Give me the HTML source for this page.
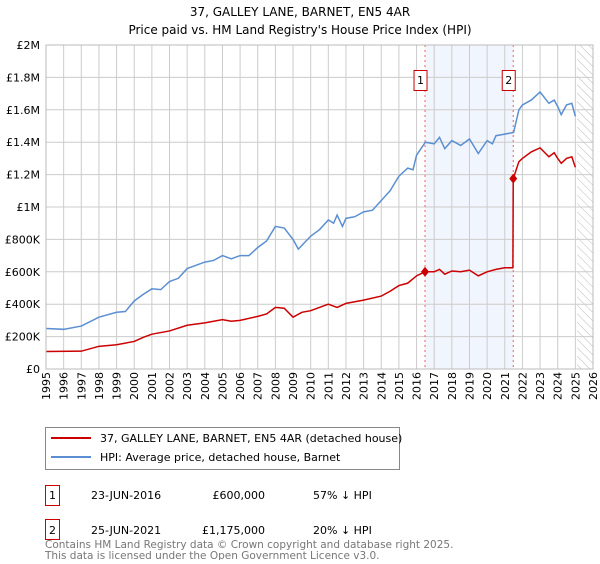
<!DOCTYPE html>
<html><head><meta charset="utf-8"><style>
body{margin:0;background:#fff;font-family:"DejaVu Sans","Liberation Sans",sans-serif;}
svg text{font-family:"DejaVu Sans","Liberation Sans",sans-serif;}
</style></head><body>
<svg id="c" width="600" height="560" xmlns="http://www.w3.org/2000/svg">
<defs><pattern id="hatch" width="6" height="6" patternUnits="userSpaceOnUse" patternTransform="rotate(-45)"><line x1="0" y1="0" x2="0" y2="6" stroke="#bbb" stroke-width="1"/></pattern></defs>
<text x="300" y="16" text-anchor="middle" font-size="12">37, GALLEY LANE, BARNET, EN5 4AR</text>
<text x="300" y="34" text-anchor="middle" font-size="12">Price paid vs. HM Land Registry's House Price Index (HPI)</text>
<g id="plot"></g>
<g>
<rect x="45.5" y="427.5" width="354" height="42" fill="#fff" stroke="#888"/>
<line x1="51" y1="438" x2="91" y2="438" stroke="#cc0000" stroke-width="2"/>
<text x="100" y="442" font-size="11">37, GALLEY LANE, BARNET, EN5 4AR (detached house)</text>
<line x1="51" y1="457" x2="91" y2="457" stroke="#5b8fd1" stroke-width="2"/>
<text x="100" y="461" font-size="11">HPI: Average price, detached house, Barnet</text>
</g>
<g font-size="11">
<rect x="45.5" y="485.5" width="14" height="20" fill="#fff" stroke="#cc0000"/>
<text x="52.5" y="499" text-anchor="middle">1</text>
<text x="91" y="499">23-JUN-2016</text><text x="265" y="499" text-anchor="end">£600,000</text><text x="313" y="499">57% ↓ HPI</text>
<rect x="45.5" y="519.5" width="14" height="20" fill="#fff" stroke="#cc0000"/>
<text x="52.5" y="534" text-anchor="middle">2</text>
<text x="91" y="534">25-JUN-2021</text><text x="265" y="534" text-anchor="end">£1,175,000</text><text x="313" y="534">20% ↓ HPI</text>
</g>
<text x="45" y="548" font-size="10.5" fill="#777">Contains HM Land Registry data © Crown copyright and database right 2025.</text>
<text x="45" y="559" font-size="10.5" fill="#777">This data is licensed under the Open Government Licence v3.0.</text>
</svg>
<script>
const hpiYears=[1995,1996,1997,1998,1999,1999.5,2000,2000.5,2001,2001.5,2002,2002.5,2003,2003.5,2004,2004.5,2005,2005.5,2006,2006.5,2007,2007.5,2008,2008.5,2009,2009.3,2010,2010.5,2011,2011.3,2011.5,2011.8,2012,2012.5,2013,2013.5,2014,2014.5,2015,2015.5,2015.8,2016,2016.5,2017,2017.3,2017.6,2018,2018.5,2019,2019.5,2020,2020.3,2020.5,2021,2021.5,2021.8,2022,2022.5,2023,2023.5,2023.8,2024,2024.2,2024.5,2024.8,2025];
const hpiValues=[250,245,265,320,350,355,420,460,495,490,540,560,620,640,660,670,700,680,700,700,750,790,880,870,800,740,820,860,920,900,950,880,930,940,970,980,1040,1100,1190,1240,1230,1320,1400,1390,1430,1360,1410,1380,1420,1330,1410,1390,1440,1450,1460,1600,1630,1660,1710,1640,1660,1620,1570,1630,1640,1560];
const priceYears=[1995,1997,1998,1999,2000,2000.5,2001,2002,2003,2004,2005,2005.5,2006,2007,2007.5,2008,2008.5,2009,2009.5,2010,2011,2011.5,2012,2013,2014,2014.5,2015,2015.5,2016,2016.48,2017,2017.3,2017.6,2018,2018.5,2019,2019.5,2020,2020.5,2021,2021.46,2021.48,2021.8,2022,2022.5,2023,2023.5,2023.8,2024,2024.2,2024.5,2024.8,2025];
const priceValues=[108,110,140,150,170,195,215,235,270,285,305,295,300,325,340,380,375,320,350,360,400,380,405,425,450,480,515,530,575,600,600,615,585,605,600,610,575,600,615,625,625,1175,1280,1300,1340,1365,1310,1335,1300,1270,1300,1310,1245];
const saleYears=[2016.48,2021.48];
const saleValues=[600,1175];
const saleLabels=["1","2"];
const yTicks=[0,200,400,600,800,1000,1200,1400,1600,1800,2000];
const yTickLabels=["£0","£200K","£400K","£600K","£800K","£1M","£1.2M","£1.4M","£1.6M","£1.8M","£2M"];
const xTicks=[1995,1996,1997,1998,1999,2000,2001,2002,2003,2004,2005,2006,2007,2008,2009,2010,2011,2012,2013,2014,2015,2016,2017,2018,2019,2020,2021,2022,2023,2024,2025,2026];
const X0=46,X1=593,Y0=369,Y1=45;
const xs=y=>X0+(y-1995)/(2026-1995)*(X1-X0);
const ys=v=>Y0-v/2000*(Y0-Y1);
const NS="http://www.w3.org/2000/svg";
const g=document.getElementById('plot');
function mk(t,a){const e=document.createElementNS(NS,t);for(const k in a)e.setAttribute(k,a[k]);g.appendChild(e);return e;}
let e=mk('rect',{x:xs(2016.48),y:Y1,width:xs(2021.48)-xs(2016.48),height:Y0-Y1,fill:'#eef3fc',opacity:0.8});


e=mk('rect',{x:xs(2025.1),y:Y1,width:X1-xs(2025.1),height:Y0-Y1,fill:'url(#hatch)'});


xTicks.forEach((t,i)=>{
 const l=mk('line',{x1:xs(t),x2:xs(t),y1:Y1,y2:Y0,stroke:'#ccc','stroke-width':1});
 
 
 const x=xs(t)+4;
 const tx=mk('text',{x:x,y:372,'font-size':11,transform:`rotate(-90 ${x} 372)`,'text-anchor':'end'});
 tx.textContent=t;
 
 
});
yTicks.forEach((t,i)=>{
 const l=mk('line',{x1:X0,x2:X1,y1:ys(t),y2:ys(t),stroke:'#ccc','stroke-width':1});
 
 
 const tx=mk('text',{x:X0-6,y:ys(t)+4,'font-size':11,'text-anchor':'end'});
 tx.textContent=yTickLabels[i];
 
 
});
saleYears.forEach((s,i)=>{
 const l=mk('line',{x1:xs(s),x2:xs(s),y1:Y1,y2:Y0,stroke:'#f06060','stroke-width':1,'stroke-dasharray':'2,3'});
 
 
 const bx=xs(s)-11;
 const r=mk('rect',{x:bx,y:70.5,width:13,height:20,fill:'#fff',stroke:'#cc0000'});
 
 
 const tx=mk('text',{x:bx+6.5,y:84,'font-size':11,'text-anchor':'middle'});
 tx.textContent=saleLabels[i];
 
 
});
const hp=mk('polyline',{points:hpiYears.map((y,i)=>xs(y)+','+ys(hpiValues[i])).join(' '),fill:'none',stroke:'#5b8fd1','stroke-width':1.5});


const pl=mk('polyline',{points:priceYears.map((y,i)=>xs(y)+','+ys(priceValues[i])).join(' '),fill:'none',stroke:'#cc0000','stroke-width':1.5});


saleYears.forEach((s,i)=>{
 const x=xs(s),y=ys(saleValues[i]);
 const d=mk('polygon',{points:`${x},${y-5} ${x+4},${y} ${x},${y+5} ${x-4},${y}`,fill:'#cc0000'});
 
 
});
const ax=mk('rect',{x:X0,y:Y1,width:X1-X0,height:Y0-Y1,fill:'none',stroke:'#bbb'});


</script>
</body></html>
